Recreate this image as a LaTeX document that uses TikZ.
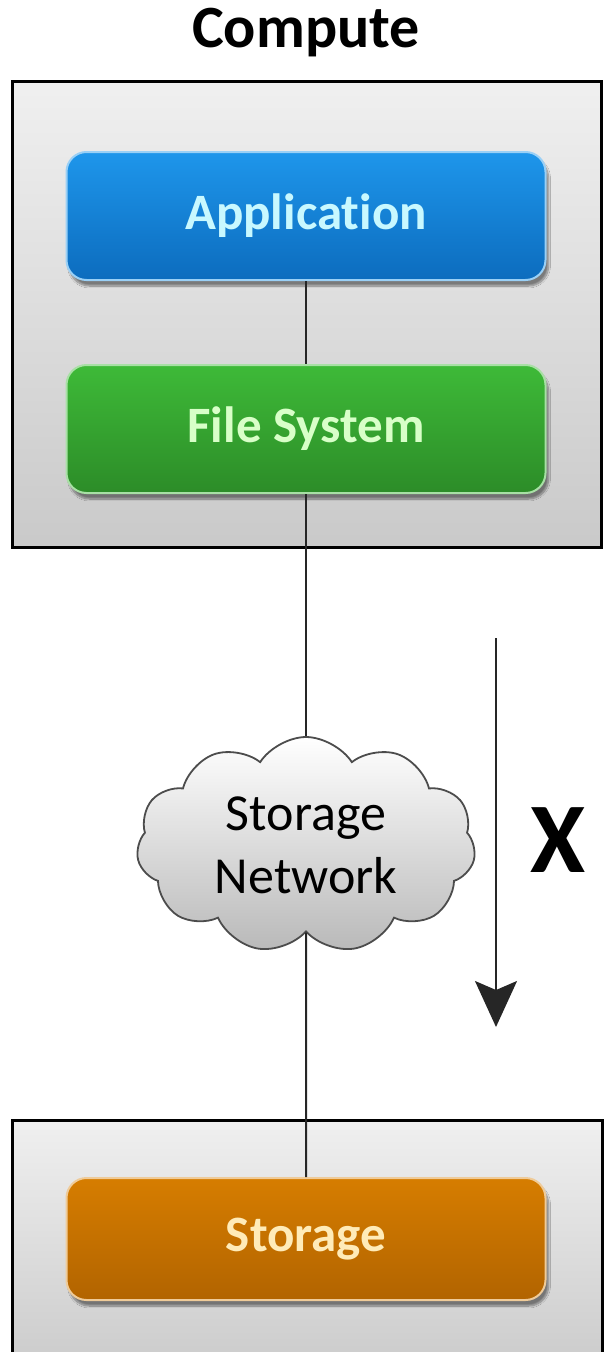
\documentclass[tikz,border=0pt]{standalone}
\usepackage{fontspec}
\setmainfont{Carlito}[Ligatures=NoCommon]
\usetikzlibrary{shapes.symbols,arrows.meta,positioning,shadows.blur}
\definecolor{apptop}{RGB}{30,150,235}
\definecolor{appbot}{RGB}{12,108,190}
\definecolor{fstop}{RGB}{62,186,56}
\definecolor{fsbot}{RGB}{44,140,40}
\definecolor{stotop}{RGB}{214,125,0}
\definecolor{stobot}{RGB}{178,100,0}

\begin{document}
\begin{tikzpicture}[x=1pt, y=-1pt,
    node distance=83pt,
    group/.style={draw=black, line width=3pt, top color=gray!12, bottom color=gray!42},
    layer/.style={rectangle, rounded corners=20pt, minimum width=479pt, minimum height=128pt, text centered,
        font=\fontsize{51}{55}\selectfont\bfseries, line width=2pt,
        blur shadow={shadow xshift=3pt, shadow yshift=-6pt, shadow blur steps=10, shadow opacity=45}},
    link/.style={draw=black!85, line width=2pt},
    arrow/.style={-{Stealth[length=46pt,width=42pt,inset=9pt]}, line width=2pt, black!85}
]
    \useasboundingbox (0,0) rectangle (610,1352);
    \clip (0,0) rectangle (610,1352);

    % Groups
    \node[font=\fontsize{60}{64}\selectfont\bfseries, anchor=base] (title) at (306,47) {Compute};
    \draw[group] (12,81) rectangle (601,547);
    \draw[group] (12,1120) rectangle (602,1380);

    % Layers
    \node[layer, draw=apptop!45!white, top color=apptop, bottom color=appbot, text={rgb,255:red,200;green,248;blue,255}] (app) at (306,216) {Application};
    \node[layer, below=of app, draw=fstop!45!white, top color=fstop, bottom color=fsbot, text={rgb,255:red,216;green,255;blue,200}] (fs) {File System};
    \node[cloud, cloud puffs=11, cloud puff arc=115, aspect=1.57, minimum width=339pt, minimum height=216pt, inner sep=0pt,
        draw=black!70, line width=1.8pt, top color=white, bottom color=gray!55, align=center,
        font=\fontsize{52}{63}\selectfont] (net) at (306,845) {Storage\\Network};
    \node[layer, minimum height=122pt, draw=stotop!40!white, top color=stotop, bottom color=stobot, text={rgb,255:red,255;green,235;blue,184}] (store) at (306,1239) {Storage};

    % Links
    \draw[link] (app) -- (fs);
    \draw[link] (fs) -- (net);
    \draw[link] (net) -- (store);

    % Direction
    \coordinate (xtop) at (496,638);
    \coordinate (xend) at (496,1027);
    \draw[arrow] (xtop) -- (xend);
    \node[font=\fontsize{100}{100}\selectfont\bfseries] (xlabel) at (558,840) {X};
\end{tikzpicture}
\end{document}
